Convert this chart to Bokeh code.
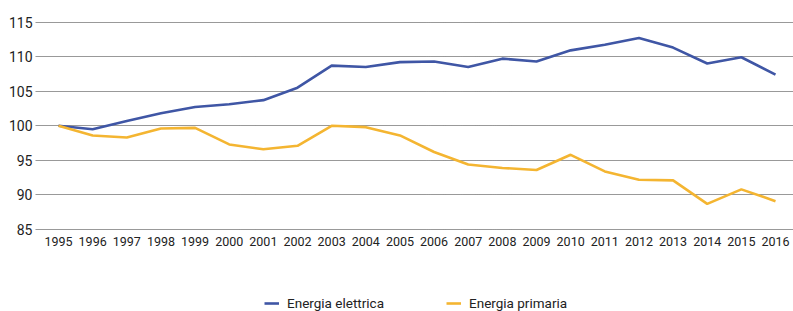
from bokeh.plotting import figure
from bokeh.models import FixedTicker, Legend, LegendItem, Range1d
from bokeh.embed import file_html
from bokeh.resources import INLINE

years = list(range(1995, 2017))
elettrica = [100.0, 99.5, 100.7, 101.8, 102.7, 103.1, 103.7, 105.5, 108.7, 108.5, 109.2,
             109.3, 108.5, 109.7, 109.3, 110.9, 111.7, 112.7, 111.3, 109.0, 109.9, 107.4]
primaria = [100.0, 98.6, 98.3, 99.6, 99.7, 97.3, 96.6, 97.1, 100.0, 99.8, 98.6,
            96.2, 94.4, 93.9, 93.6, 95.8, 93.4, 92.2, 92.1, 88.7, 90.8, 89.1]
y_ticks = [85, 90, 95, 100, 105, 110, 115]

FONT = "Roboto"
PX_PER_UNIT = 6.917
W, H = 793, 311
Y_TOP = 115 + 21.5 / PX_PER_UNIT
Y_BOTTOM = Y_TOP - H / PX_PER_UNIT

p = figure(width=W, height=H, output_backend="svg", toolbar_location=None,
           x_range=Range1d(1994.326, 2016.527), y_range=Range1d(Y_BOTTOM, Y_TOP),
           min_border_left=35, min_border_right=0, min_border_top=0, min_border_bottom=0)
p.outline_line_color = None
p.background_fill_color = "white"
p.border_fill_color = "white"

r1 = p.line(years, elettrica, line_color="#3f56a5", line_width=2.6)
r2 = p.line(years, primaria, line_color="#f4b531", line_width=2.6)

p.xgrid.grid_line_color = None
p.ygrid.ticker = FixedTicker(ticks=y_ticks)
p.ygrid.grid_line_color = "#333333"
p.ygrid.grid_line_dash = "1 1"
p.ygrid.grid_line_width = 1

p.yaxis.ticker = FixedTicker(ticks=y_ticks)
p.xaxis.ticker = FixedTicker(ticks=years)
p.xaxis.fixed_location = 84.5
for ax in (p.xaxis, p.yaxis):
    ax.axis_line_color = None
    ax.major_tick_line_color = None
    ax.minor_tick_line_color = None
    ax.major_tick_out = 0
    ax.major_tick_in = 0
    ax.major_label_text_font = FONT
    ax.major_label_text_color = "#222222"
p.yaxis.major_label_text_font_size = "14px"
p.yaxis.major_label_standoff = 3
p.xaxis.major_label_text_font_size = "12.5px"
p.xaxis.major_label_standoff = 4

legend = Legend(items=[LegendItem(label="Energia elettrica", renderers=[r1]),
                       LegendItem(label="Energia primaria", renderers=[r2])],
                orientation="horizontal", location=(229, 0))
legend.border_line_color = None
legend.background_fill_alpha = 0
legend.label_text_font = FONT
legend.label_text_font_size = "13.5px"
legend.label_text_color = "#222222"
legend.glyph_width = 15
legend.label_standoff = 8
legend.spacing = 62
legend.padding = 0
legend.margin = 0
legend.label_height = 14
legend.glyph_height = 14
p.add_layout(legend, "center")

open("out.html", "w").write(file_html(p, INLINE))
